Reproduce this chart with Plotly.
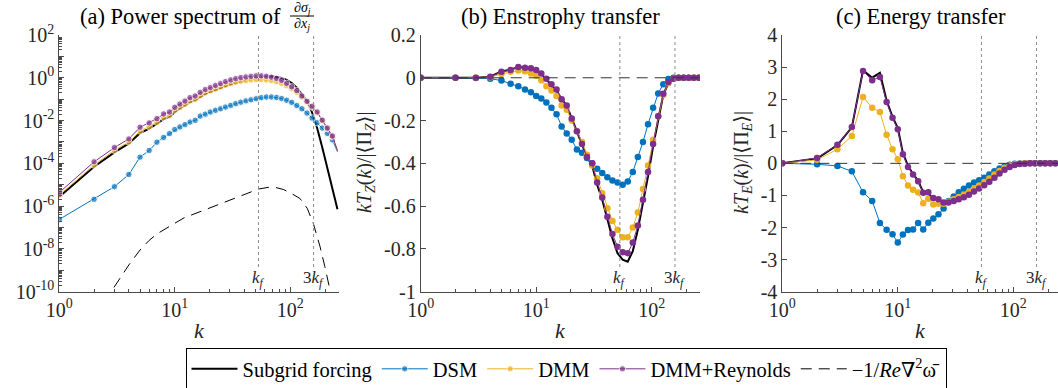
import math
import plotly.graph_objects as go

W, H = 1058, 388

# ---------------- data ----------------
k = [1, 2, 3, 4, 5, 6, 7, 8, 9, 10,
     11.07, 12.25, 13.55, 15.0, 16.6, 18.37, 20.3, 22.5, 24.9, 27.5,
     30.5, 33.7, 37.3, 41.3, 45.7, 50.6, 56.0, 62.0, 68.6, 75.9,
     84.0, 92.9, 102.8, 113.8, 125.9, 139.4, 154.2, 170.7, 188.9, 209.0,
     231.3, 256.0]
kf = 53

# (a) power spectrum, stored as log10 of the value
spec_sgs_log = [-5.56, -4.16, -3.49, -3.07, -2.58, -2.38, -2.14, -1.93, -1.83, -1.60,
                -1.43, -1.29, -1.13, -1.04, -0.88, -0.75, -0.65, -0.55, -0.46, -0.37,
                -0.29, -0.22, -0.16, -0.10, -0.05, 0.00, 0.04, 0.06, 0.06, 0.04,
                -0.01, -0.10, -0.25, -0.46, -0.75, -1.08, -1.62, -2.35, -3.25, -4.20,
                -5.15, -6.15]
spec_dsm_log = [-6.62, -5.68, -5.09, -4.52, -3.71, -3.40, -3.01, -2.79, -2.61, -2.42,
                -2.30, -2.19, -2.07, -1.99, -1.79, -1.70, -1.60, -1.52, -1.45, -1.37,
                -1.29, -1.21, -1.14, -1.08, -1.03, -0.98, -0.93, -0.90, -0.90, -0.92,
                -0.97, -1.05, -1.15, -1.30, -1.45, -1.65, -1.88, -2.10, -2.35, -2.60,
                -2.90, -3.46]
spec_dmm_log = [-5.48, -4.08, -3.39, -3.00, -2.49, -2.28, -2.08, -1.86, -1.76, -1.52,
                -1.38, -1.24, -1.08, -1.00, -0.83, -0.70, -0.61, -0.52, -0.43, -0.34,
                -0.27, -0.21, -0.16, -0.13, -0.10, -0.08, -0.08, -0.10, -0.13, -0.18,
                -0.26, -0.37, -0.51, -0.68, -0.90, -1.13, -1.37, -1.63, -2.00, -2.38,
                -2.75, -3.42]
spec_dmmr_log = [-5.36, -3.93, -3.26, -2.86, -2.31, -2.11, -1.91, -1.69, -1.60, -1.38,
                 -1.23, -1.09, -0.93, -0.85, -0.68, -0.55, -0.46, -0.36, -0.27, -0.18,
                 -0.10, -0.04, 0.01, 0.04, 0.07, 0.09, 0.09, 0.07, 0.03, -0.03,
                 -0.12, -0.26, -0.42, -0.60, -0.85, -1.10, -1.33, -1.60, -1.98, -2.35,
                 -2.72, -3.40]
visc_k = [2, 3, 4, 5, 6, 7, 8, 10, 12, 16, 20, 25, 30, 37, 45, 53, 65, 75, 87, 100,
          121, 140, 158, 181, 199, 218, 235]
spec_visc_log = [-11.2, -9.75, -8.75, -8.05, -7.6, -7.3, -7.1, -6.8, -6.55, -6.28,
                 -6.07, -5.88, -5.72, -5.53, -5.34, -5.2, -5.12, -5.13, -5.22, -5.38,
                 -5.64, -6.1, -6.8, -7.9, -8.82, -9.75, -10.6]

# (b) enstrophy transfer
tz_sgs = [0, 0, 0, 0.005, 0.03, 0.038, 0.05, 0.047, 0.043, 0.035,
          0.018, -0.008, -0.035, -0.06, -0.10, -0.13, -0.19, -0.25, -0.31, -0.37,
          -0.41, -0.50, -0.57, -0.66, -0.75, -0.82, -0.85, -0.86, -0.81, -0.71,
          -0.59, -0.46, -0.32, -0.19, -0.08, -0.025, -0.005, 0, 0, 0, 0, 0]
tz_dsm = [0, 0, -0.001, -0.004, -0.013, -0.028, -0.04, -0.055, -0.068, -0.085,
          -0.097, -0.115, -0.14, -0.17, -0.228, -0.26, -0.29, -0.335, -0.35, -0.375,
          -0.40, -0.425, -0.445, -0.465, -0.48, -0.49, -0.50, -0.485, -0.44, -0.37,
          -0.30, -0.217, -0.14, -0.073, -0.03, -0.006, 0, 0, 0, 0, 0, 0]
tz_dmm = [0, 0, 0, 0.003, 0.018, 0.028, 0.034, 0.03, 0.02, 0.01,
          -0.012, -0.04, -0.06, -0.085, -0.13, -0.15, -0.20, -0.25, -0.30, -0.36,
          -0.41, -0.47, -0.54, -0.61, -0.67, -0.71, -0.745, -0.745, -0.70, -0.63,
          -0.52, -0.41, -0.29, -0.18, -0.08, -0.025, -0.005, 0, 0, 0, 0, 0]
tz_dmmr = [0, 0, 0, 0.005, 0.028, 0.036, 0.05, 0.047, 0.044, 0.036,
           0.02, -0.005, -0.03, -0.055, -0.10, -0.13, -0.19, -0.25, -0.31, -0.37,
           -0.40, -0.49, -0.56, -0.65, -0.73, -0.79, -0.815, -0.82, -0.77, -0.69,
           -0.57, -0.44, -0.31, -0.18, -0.075, -0.02, -0.005, 0, 0, 0, 0, 0]

# (c) energy transfer
te_sgs = [0.0, 0.15, 0.57, 1.12, 2.90, 2.67, 2.82, 1.95, 1.45, 1.10,
          0.32, -0.08, -0.33, -0.55, -0.90, -0.93, -1.10, -1.14, -1.22, -1.22,
          -1.17, -1.12, -1.06, -0.98, -0.88, -0.78, -0.68, -0.57, -0.45, -0.32,
          -0.20, -0.11, -0.05, -0.02, -0.01, 0, 0, 0, 0, 0, 0, 0]
te_dsm = [0.0, -0.03, -0.08, -0.25, -0.90, -1.17, -1.86, -2.07, -2.21, -2.47,
          -2.22, -2.08, -2.06, -1.86, -2.06, -1.85, -1.72, -1.59, -1.41, -1.17,
          -1.03, -0.90, -0.79, -0.69, -0.60, -0.53, -0.45, -0.35, -0.25, -0.16,
          -0.09, -0.04, -0.015, -0.005, 0, 0, 0, 0, 0, 0, 0, 0]
te_dmm = [0.0, 0.11, 0.44, 0.85, 2.07, 1.73, 1.60, 0.89, 0.44, 0.13,
          -0.40, -0.69, -0.82, -0.91, -1.24, -1.10, -1.28, -1.26, -1.26, -1.20,
          -1.12, -1.05, -0.98, -0.89, -0.79, -0.69, -0.58, -0.47, -0.35, -0.24,
          -0.14, -0.07, -0.03, -0.01, 0, 0, 0, 0, 0, 0, 0, 0]
te_dmmr = [0.0, 0.17, 0.58, 1.13, 2.88, 2.59, 2.69, 1.91, 1.42, 1.06,
           0.28, -0.11, -0.35, -0.56, -0.92, -0.90, -1.08, -1.12, -1.22, -1.22,
           -1.17, -1.12, -1.06, -0.98, -0.88, -0.78, -0.68, -0.57, -0.45, -0.32,
           -0.20, -0.11, -0.05, -0.02, -0.01, 0, 0, 0, 0, 0, 0, 0]
zero_k = [1, 256]
zero_line = [0, 0]

names = ["Subgrid forcing", "DSM", "DMM", "DMM+Reynolds",
         "\u22121/<i>Re</i>\u2207<sup>2</sup>\u03c9\u0304"]

# ---------------- style ----------------
BLUE, YEL, PUR = "#0072BD", "#EDB120", "#7E2F8E"
AX = "#4a4a4a"
TXT = "#262626"
FONT = "Liberation Serif, Times New Roman, DejaVu Serif, serif"
MS = 6.5


def px2x(p):
    return p / W


def px2y(p):
    return 1 - p / H


ydom = [px2y(291.7), px2y(35)]
fig = go.Figure()

# ---- panel (a)
sizes_a = [MS] * (len(k) - 1) + [0]
fig.add_trace(go.Scatter(x=k, y=[10 ** v for v in spec_sgs_log], mode="lines",
                         line=dict(color="black", width=2), name=names[0],
                         xaxis="x", yaxis="y", legendrank=1))
for arr, col, nm, rk in [(spec_dsm_log, BLUE, names[1], 2),
                         (spec_dmm_log, YEL, names[2], 3),
                         (spec_dmmr_log, PUR, names[3], 4)]:
    fig.add_trace(go.Scatter(x=k, y=[10 ** v for v in arr], mode="lines+markers",
                             line=dict(color=col, width=1),
                             marker=dict(color=col, size=sizes_a),
                             name=nm, xaxis="x", yaxis="y", legendrank=rk))
fig.add_trace(go.Scatter(x=visc_k, y=[10 ** v for v in spec_visc_log], mode="lines",
                         line=dict(color="black", width=1, dash="11px,7px"),
                         name=names[4], xaxis="x", yaxis="y", legendrank=5))

# ---- panels (b), (c)
for xa, ya, sgs, dsm, dmm, dmmr in [("x2", "y2", tz_sgs, tz_dsm, tz_dmm, tz_dmmr),
                                     ("x3", "y3", te_sgs, te_dsm, te_dmm, te_dmmr)]:
    fig.add_trace(go.Scatter(x=k, y=sgs, mode="lines", line=dict(color="black", width=2),
                             showlegend=False, xaxis=xa, yaxis=ya))
    for arr, col in [(dsm, BLUE), (dmm, YEL), (dmmr, PUR)]:
        fig.add_trace(go.Scatter(x=k, y=arr, mode="lines+markers",
                                 line=dict(color=col, width=1),
                                 marker=dict(color=col, size=MS),
                                 showlegend=False, xaxis=xa, yaxis=ya))
    fig.add_trace(go.Scatter(x=zero_k, y=zero_line, mode="lines",
                             line=dict(color="#333333", width=1, dash="11px,7px"),
                             showlegend=False, xaxis=xa, yaxis=ya))

# ---------------- axes ----------------
x_minor = [m * d for d in (1, 10, 100) for m in range(2, 10)]


def xaxis(dom, rng, anchor):
    return dict(type="log", domain=dom, range=[0, rng], anchor=anchor, automargin=False,
                showline=True, linecolor=AX, linewidth=1, mirror=False,
                ticks="inside", ticklen=5, tickcolor=AX, tickwidth=1,
                tickvals=[1, 10, 100],
                ticktext=["10<sup>0</sup>", "10<sup>1</sup>", "10<sup>2</sup>"],
                minor=dict(ticks="inside", ticklen=3, tickcolor=AX, tickvals=x_minor),
                tickfont=dict(family=FONT, size=20, color=TXT),
                showgrid=False, zeroline=False)


def yaxis_lin(rng, vals, texts, anchor):
    return dict(domain=ydom, range=rng, anchor=anchor, automargin=False,
                showline=True, linecolor=AX, linewidth=1,
                ticks="inside", ticklen=5, tickcolor=AX,
                tickvals=vals, ticktext=texts,
                tickfont=dict(family=FONT, size=20, color=TXT),
                showgrid=False, zeroline=False)


dec = list(range(-10, 3))
y_minor = [m * 10.0 ** d for d in range(-10, 2) for m in range(2, 10)]
layout = dict(
    width=W, height=H, margin=dict(l=0, r=0, t=0, b=0, pad=0, autoexpand=False),
    paper_bgcolor="white", plot_bgcolor="white",
    font=dict(family=FONT, color=TXT),
    xaxis=xaxis([px2x(59.3), px2x(339)], 2.4215, "y"),
    xaxis2=xaxis([px2x(420.7), px2x(700)], 2.418, "y2"),
    xaxis3=xaxis([px2x(782.3), 1.0], 2.387, "y3"),
    yaxis=dict(type="log", domain=ydom, range=[-10, 2], anchor="x", automargin=False,
               showline=True, linecolor=AX, linewidth=1,
               ticks="inside", ticklen=5, tickcolor=AX,
               tickvals=[10.0 ** d for d in dec],
               ticktext=[("10<sup>%d</sup>" % d) if d % 2 == 0 else "" for d in dec],
               minor=dict(ticks="inside", ticklen=3, tickcolor=AX, tickvals=y_minor),
               tickfont=dict(family=FONT, size=20, color=TXT),
               showgrid=False, zeroline=False),
    yaxis2=yaxis_lin([-1, 0.2], [0.2, 0, -0.2, -0.4, -0.6, -0.8, -1],
                     ["0.2", "0", "-0.2", "-0.4", "-0.6", "-0.8", "-1"], "x2"),
    yaxis3=yaxis_lin([-4, 4], [4, 3, 2, 1, 0, -1, -2, -3, -4],
                     ["4", "3", "2", "1", "0", "-1", "-2", "-3", "-4"], "x3"),
    legend=dict(orientation="h", x=px2x(566), xanchor="center",
                y=px2y(369), yanchor="middle", itemwidth=46,
                bordercolor="black", borderwidth=1, bgcolor="white",
                font=dict(family=FONT, size=20.5, color="black"),
                tracegroupgap=0),
    showlegend=True,
)
fig.update_layout(**layout)

# ---------------- kf marker lines and labels ----------------
for xa in ("x", "x2", "x3"):
    for val, lab in [(kf, "<i>k<sub>f</sub></i>"), (3 * kf, "3<i>k<sub>f</sub></i>")]:
        fig.add_shape(type="line", xref=xa, yref="paper", x0=val, x1=val,
                      y0=px2y(267), y1=px2y(35),
                      line=dict(color="#8c8c8c", width=1, dash="dot"))
        # annotations on a log axis take log10 positions
        fig.add_annotation(xref=xa, yref="paper", x=math.log10(val), y=px2y(279),
                           text=lab, showarrow=False, xanchor="center", yanchor="middle",
                           font=dict(family=FONT, size=17, color=TXT))

# ---------------- titles and axis labels ----------------
TF = dict(family=FONT, size=22.5, color="black")
fig.add_annotation(xref="paper", yref="paper", x=px2x(78), y=px2y(17), text="(a) Power spectrum of",
                   showarrow=False, xanchor="left", yanchor="middle", font=TF)
fig.add_annotation(xref="paper", yref="paper", x=px2x(302), y=px2y(8),
                   text="\u2202<i>\u03c3<sub>j</sub></i>",
                   showarrow=False, xanchor="center", yanchor="middle",
                   font=dict(family=FONT, size=14, color="black"))
fig.add_annotation(xref="paper", yref="paper", x=px2x(302), y=px2y(25),
                   text="\u2202<i>x<sub>j</sub></i>",
                   showarrow=False, xanchor="center", yanchor="middle",
                   font=dict(family=FONT, size=14, color="black"))
fig.add_shape(type="line", xref="paper", yref="paper", x0=px2x(290), x1=px2x(314),
              y0=px2y(16), y1=px2y(16), line=dict(color="black", width=1))
fig.add_annotation(xref="paper", yref="paper", x=px2x(560.4), y=px2y(17), text="(b) Enstrophy transfer",
                   showarrow=False, xanchor="center", yanchor="middle", font=TF)
fig.add_annotation(xref="paper", yref="paper", x=px2x(921), y=px2y(17), text="(c) Energy transfer",
                   showarrow=False, xanchor="center", yanchor="middle", font=TF)
for cx in (199, 560.4, 920):
    fig.add_annotation(xref="paper", yref="paper", x=px2x(cx), y=px2y(330), text="<i>k</i>",
                       showarrow=False, xanchor="center", yanchor="middle",
                       font=dict(family=FONT, size=22, color=TXT))
fig.add_annotation(xref="paper", yref="paper", x=px2x(365), y=px2y(163), textangle=-90,
                   text="<i>kT<sub>Z</sub></i>(<i>k</i>)/|\u27e8\u03a0<sub><i>Z</i></sub>\u27e9|",
                   showarrow=False, xanchor="center", yanchor="middle",
                   font=dict(family=FONT, size=20, color=TXT))
fig.add_annotation(xref="paper", yref="paper", x=px2x(742), y=px2y(163), textangle=-90,
                   text="<i>kT<sub>E</sub></i>(<i>k</i>)/|\u27e8\u03a0<sub><i>E</i></sub>\u27e9|",
                   showarrow=False, xanchor="center", yanchor="middle",
                   font=dict(family=FONT, size=20, color=TXT))

fig.write_html("out.html")
